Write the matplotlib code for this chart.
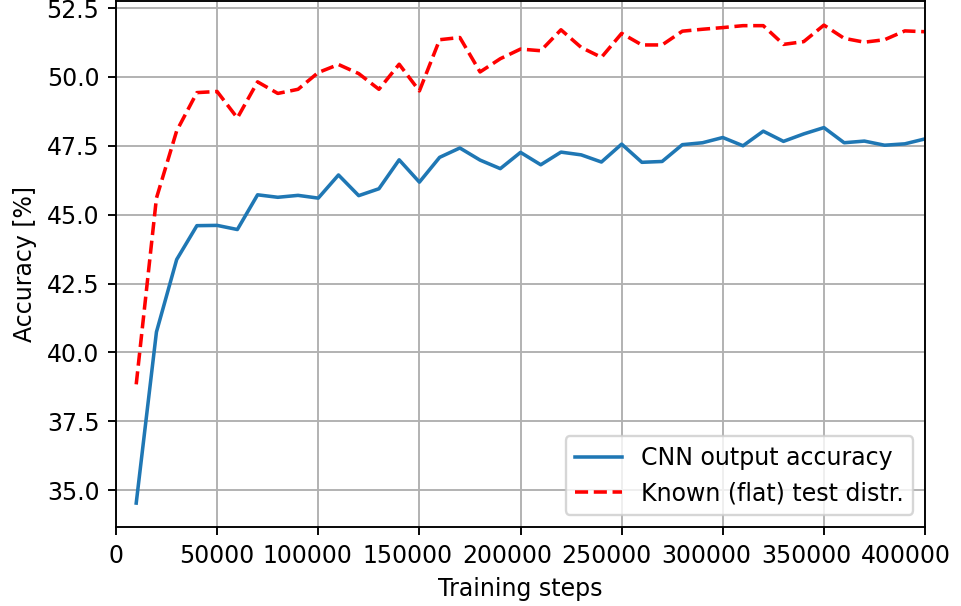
import matplotlib
matplotlib.use("Agg")
import matplotlib.pyplot as plt
import matplotlib.transforms as mtransforms
import numpy as np

steps = np.arange(10000, 400001, 10000)

cnn_acc = [34.53, 40.74, 43.37, 44.60, 44.61, 44.46, 45.72, 45.63, 45.70, 45.60,
           46.44, 45.69, 45.94, 46.99, 46.18, 47.08, 47.42, 46.98, 46.67, 47.26,
           46.81, 47.27, 47.17, 46.91, 47.56, 46.90, 46.93, 47.54, 47.61, 47.80,
           47.50, 48.03, 47.66, 47.93, 48.16, 47.61, 47.67, 47.52, 47.57, 47.75]

flat_acc = [38.84, 45.60, 48.04, 49.43, 49.47, 48.51, 49.82, 49.40, 49.55, 50.16,
            50.45, 50.12, 49.55, 50.46, 49.49, 51.35, 51.43, 50.18, 50.66, 51.01,
            50.95, 51.71, 51.07, 50.71, 51.58, 51.16, 51.16, 51.66, 51.73, 51.79,
            51.86, 51.86, 51.18, 51.28, 51.88, 51.40, 51.26, 51.35, 51.67, 51.64]

x_ticks = [0, 50000, 100000, 150000, 200000, 250000, 300000, 350000, 400000]

dpi = 170
fig, ax = plt.subplots(figsize=(961 / dpi, 606 / dpi), dpi=dpi)
fig.subplots_adjust(left=0.1207, right=0.9626, bottom=0.1304, top=0.998)

ax.plot(steps, cnn_acc, label="CNN output accuracy")
ax.plot(steps, flat_acc, 'r--', label="Known (flat) test distr.")

ax.set_xlim(0, 400000)
ax.set_xticks(x_ticks)
ax.set_xlabel("Training steps")
ax.set_ylabel("Accuracy [%]")
ax.grid(True)
ax.legend(loc="lower right")

# the long labels sit a bit left of their ticks in the original
for tick, val in zip(ax.xaxis.get_major_ticks(), x_ticks):
    if val >= 100000:
        dx = -(8 + 0.0000275 * val) / dpi
        lbl = tick.label1
        lbl.set_transform(lbl.get_transform() +
                          mtransforms.ScaledTranslation(dx, 0, fig.dpi_scale_trans))

fig.savefig("out.png", dpi=dpi)
